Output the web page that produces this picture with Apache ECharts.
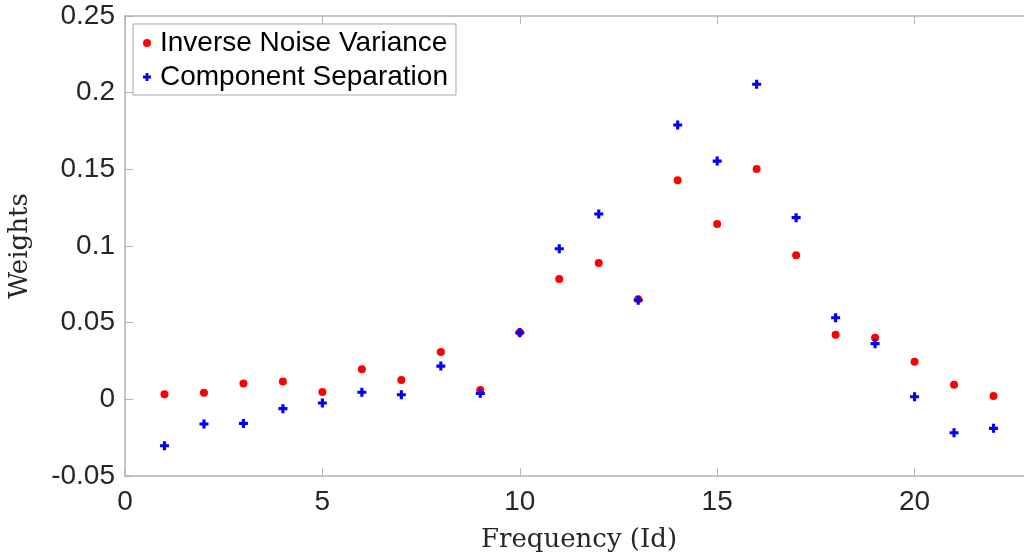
<!DOCTYPE html>
<html>
<head>
<meta charset="utf-8">
<script src="https://cdn.jsdelivr.net/npm/echarts@6/dist/echarts.min.js"></script>
<style>
  html, body { margin: 0; padding: 0; background: #fff; }
  #chart { width: 1024px; height: 556px; }
</style>
</head>
<body>
<div id="chart"></div>
<script>
// frequency ids 1..22
const freqIds = [1, 2, 3, 4, 5, 6, 7, 8, 9, 10, 11, 12, 13, 14, 15, 16, 17, 18, 19, 20, 21, 22];
const inverseNoise = [0.0033, 0.0043, 0.0104, 0.0117, 0.0048, 0.0196, 0.0126, 0.0309, 0.0061, 0.0437, 0.0785,
  0.0889, 0.0652, 0.1429, 0.1144, 0.1502, 0.0939, 0.0421, 0.0402, 0.0245, 0.0095, 0.0022];
const componentSep = [-0.0303, -0.0161, -0.0157, -0.0061, -0.0024, 0.0046, 0.0030, 0.0217, 0.0039, 0.0434, 0.0982,
  0.1209, 0.0646, 0.1789, 0.1554, 0.2055, 0.1185, 0.0532, 0.0363, 0.0017, -0.0218, -0.0189];
const seriesNames = ["Inverse Noise Variance", "Component Separation"];

const AXIS = "#b3b3b3";
const TXT = "#262626";
const PLUS = "path://M2.6,0H5.4V2.6H8V5.4H5.4V8H2.6V5.4H0V2.6H2.6Z";

function pairs(ys) {
  return freqIds.map(function (x, i) { return [x, ys[i]]; });
}

const chart = echarts.init(document.getElementById("chart"));
chart.setOption({
  animation: false,
  // the right side of the box runs past the picture edge
  grid: { left: 125, top: 16, width: 908, height: 460, outerBoundsMode: "none" },
  legend: {
    orient: "vertical",
    left: 133,
    top: 24,
    padding: [5, 8, 4, 10],
    itemGap: 6,
    itemWidth: 8,
    itemHeight: 8,
    backgroundColor: "#fff",
    borderColor: "#a8a8a8",
    borderWidth: 1,
    borderRadius: 0,
    textStyle: { fontFamily: "Liberation Sans", fontSize: 28, color: "#000", padding: [0, 0, 0, 4] },
    data: [
      { name: seriesNames[0], icon: "circle" },
      { name: seriesNames[1], icon: PLUS }
    ]
  },
  xAxis: [{
    type: "value",
    min: 0,
    max: 23,
    interval: 5,
    name: "Frequency (Id)",
    nameLocation: "middle",
    nameGap: 51,
    nameTextStyle: { fontFamily: "DejaVu Serif", fontSize: 26, color: TXT },
    axisLine: { onZero: false, lineStyle: { color: AXIS, width: 1.5 } },
    axisTick: { inside: true, length: 8, lineStyle: { color: AXIS } },
    axisLabel: { fontFamily: "Liberation Sans", fontSize: 28, color: TXT, margin: 12, showMaxLabel: false },
    splitLine: { show: false }
  }, {
    type: "value",
    position: "top",
    min: 0,
    max: 23,
    interval: 5,
    axisLine: { onZero: false, lineStyle: { color: AXIS, width: 1.5 } },
    axisTick: { inside: true, length: 8, lineStyle: { color: AXIS } },
    axisLabel: { show: false },
    splitLine: { show: false }
  }],
  yAxis: {
    type: "value",
    min: -0.05,
    max: 0.25,
    interval: 0.05,
    name: "Weights",
    nameLocation: "middle",
    nameGap: 92,
    nameTextStyle: { fontFamily: "DejaVu Serif", fontSize: 26, color: TXT },
    axisLine: { show: true, onZero: false, lineStyle: { color: AXIS, width: 1.5 } },
    axisTick: { show: true, inside: true, length: 8, lineStyle: { color: AXIS } },
    axisLabel: {
      fontFamily: "Liberation Sans", fontSize: 28, color: TXT, margin: 10,
      formatter: function (v) { return String(parseFloat(v.toFixed(2))); }
    },
    splitLine: { show: false }
  },
  series: [{
    name: seriesNames[0],
    type: "scatter",
    symbol: "circle",
    symbolSize: 8,
    itemStyle: { color: "#ff0000", opacity: 1 },
    data: pairs(inverseNoise)
  }, {
    name: seriesNames[1],
    type: "scatter",
    symbol: PLUS,
    symbolSize: 9,
    itemStyle: { color: "#0000ff", opacity: 1 },
    data: pairs(componentSep)
  }]
});
</script>
</body>
</html>
